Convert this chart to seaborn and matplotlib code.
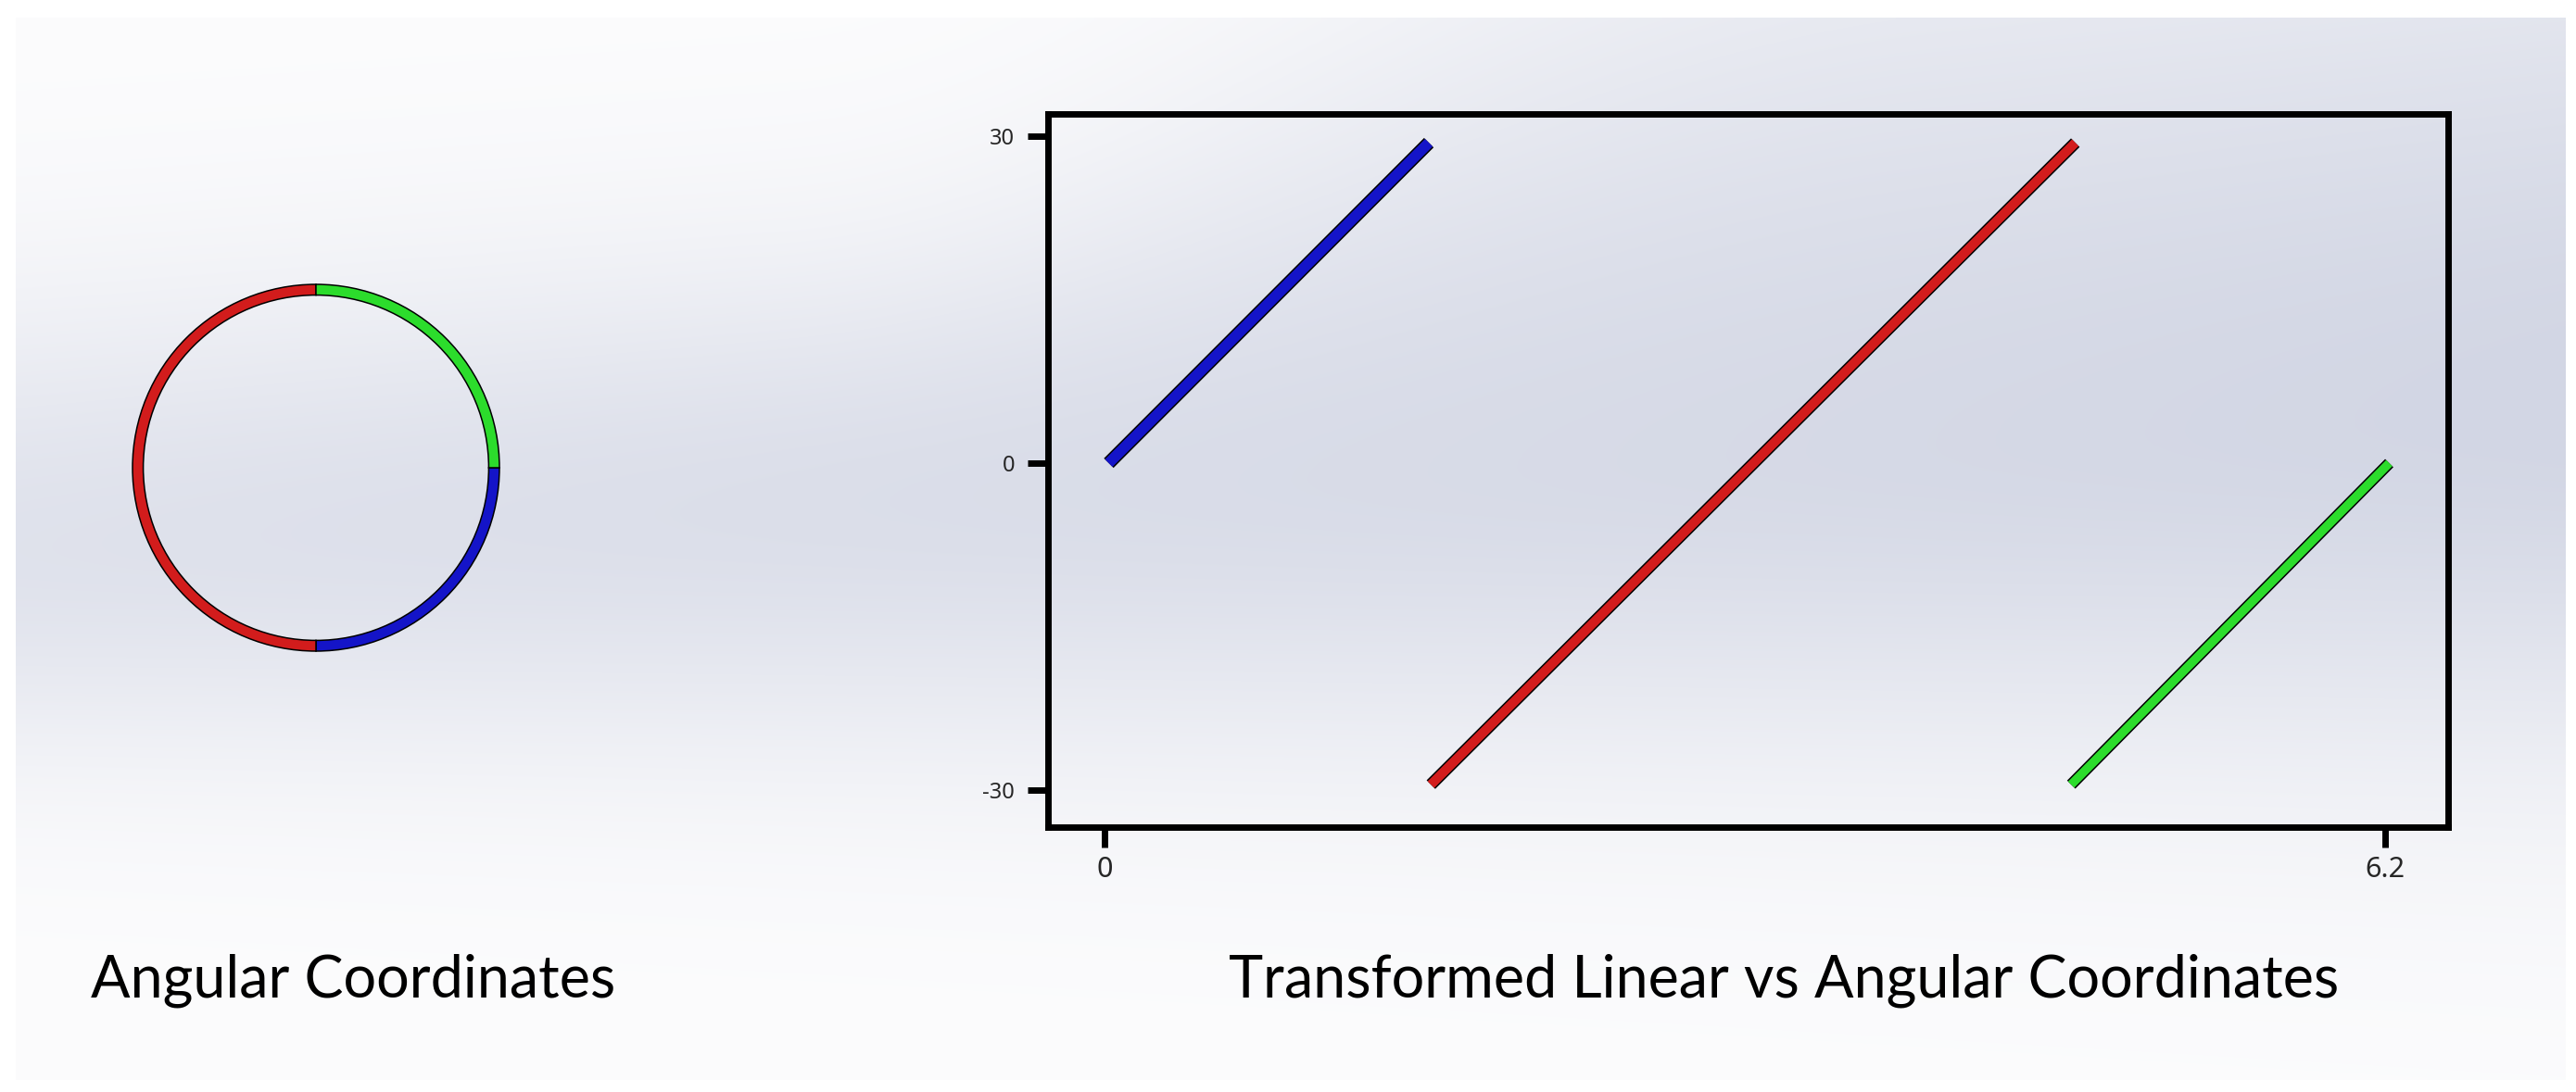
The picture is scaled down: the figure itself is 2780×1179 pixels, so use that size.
import numpy as np
import seaborn as sns
import matplotlib.pyplot as plt
import matplotlib.patheffects as pe
from matplotlib.patches import Wedge

# angle (rad) vs transformed linear coordinate, one segment per colour
blue_theta = [0.02, 1.57]
blue_lin = [0.0, 29.4]
red_theta = [1.58, 4.70]
red_lin = [-29.5, 29.4]
green_theta = [4.68, 6.22]
green_lin = [-29.5, 0.0]

# the same segments on the circle, degrees clockwise from +x
blue_arc = [0, 90]
red_arc = [90, 270]
green_arc = [270, 360]

x_ticks = [0, 6.2]
x_ticklabels = ["0", "6.2"]
y_ticks = [-30, 0, 30]
y_ticklabels = ["-30", "0", "30"]

BLUE = "#1414c8"
RED = "#d21c1c"
GREEN = "#2cdc2c"

sns.set_theme(style="white")
plt.rcParams["font.family"] = ["Noto Sans", "DejaVu Sans"]

W, H = 2780, 1179
fig = plt.figure(figsize=(W / 100, H / 100), dpi=100, facecolor="white")

# background gradient (SolidWorks-like)
bg = fig.add_axes([17 / W, 1 - 1166 / H, (2769 - 17) / W, (1166 - 19) / H])
bg.set_zorder(-5)
gx = np.linspace(0, 1, 560)[None, :]
gy = np.linspace(0, 1, 240)[:, None]
t = np.clip((gx - 0.3) / 0.45, 0, 1)
t = t * t * (3 - 2 * t)
center = 0.50 - 0.13 * gx
w_top = 0.24 + 0.28 * t
w_bot = 0.20 + 0.13 * gx
wid = np.where(gy < center, w_top, w_bot)
amp = 0.68 + 0.32 * gx
d = amp * np.exp(-((gy - center) / wid) ** 2)
white = np.array([252, 252, 253]) / 255
dark = np.array([210, 214, 228]) / 255
img = white * (1 - d[..., None]) + dark * d[..., None]
bg.imshow(img, aspect="auto", interpolation="bilinear")
bg.axis("off")

# left panel: the circle
axc = fig.add_axes([91 / W, 1 - 755 / H, 500 / W, 500 / H])
axc.set_xlim(-1.25, 1.25)
axc.set_ylim(-1.25, 1.25)
axc.set_aspect("equal")
axc.axis("off")
axc.patch.set_alpha(0)
for arc, col in [(blue_arc, BLUE), (red_arc, RED), (green_arc, GREEN)]:
    axc.add_patch(Wedge((0, 0), 0.99, -arc[1], -arc[0], width=0.058,
                        facecolor=col, edgecolor="black", lw=1.1))

# right panel: transformed linear vs angular
ax = fig.add_axes([1131 / W, 1 - 893 / H, (2642 - 1131) / W, (893 - 123) / H])
ax.patch.set_alpha(0)
for th, lin, col, lw in [(blue_theta, blue_lin, BLUE, 10.5),
                         (red_theta, red_lin, RED, 9.5),
                         (green_theta, green_lin, GREEN, 9)]:
    sns.lineplot(x=th, y=lin, ax=ax, color=col, lw=lw - 2.2, solid_capstyle="butt",
                 path_effects=[pe.Stroke(linewidth=lw, foreground="black"), pe.Normal()])

ax.set_xlim(-0.274, 6.505)
ax.set_ylim(-33.4, 32.04)
ax.set_xticks(x_ticks)
ax.set_xticklabels(x_ticklabels, fontsize=22)
ax.set_yticks(y_ticks)
ax.set_yticklabels(y_ticklabels, fontsize=17)
ax.tick_params(axis="both", which="major", direction="out", length=16, width=5,
               color="black", left=True, bottom=True)
ax.tick_params(axis="x", pad=6)
ax.tick_params(axis="y", pad=10)
for s in ax.spines.values():
    s.set_visible(True)
    s.set_linewidth(5)
    s.set_color("black")

fig.text(98 / W, 1 - 1076 / H, "Angular Coordinates", family="Lato",
         fontsize=45.3, va="baseline", ha="left", color="black")
fig.text(1326 / W, 1 - 1076 / H, "Transformed Linear vs Angular Coordinates",
         family="Lato", fontsize=45.3, va="baseline", ha="left", color="black")

fig.savefig("out.png", dpi=100, facecolor="white")
